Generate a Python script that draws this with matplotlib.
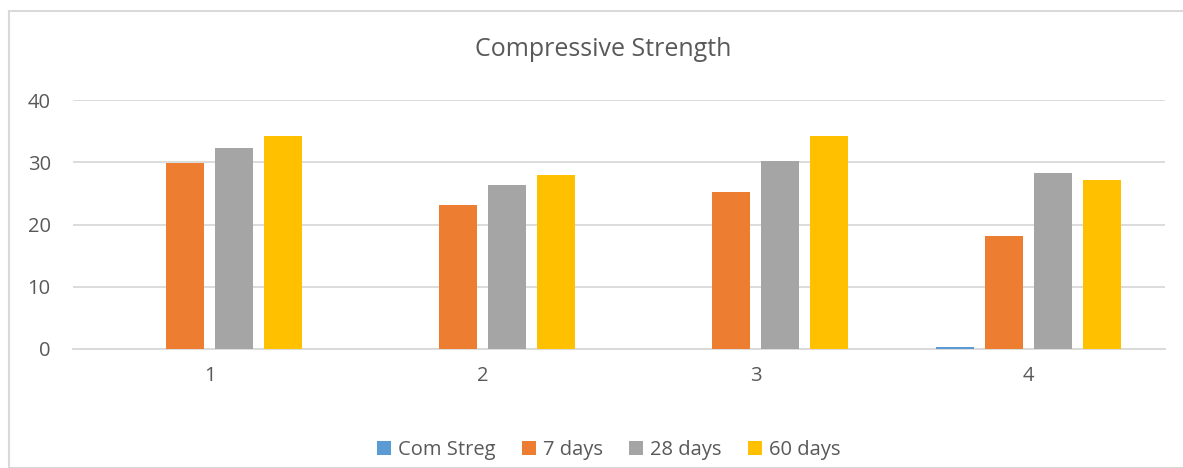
import numpy as np
import matplotlib.pyplot as plt
from matplotlib.patches import Rectangle

plt.rcParams['font.family'] = ['Open Sans', 'DejaVu Sans']

samples = ['1', '2', '3', '4']
com_streg = [0, 0, 0, 0.25]
days_7 = [29.9, 23.2, 25.2, 18.1]
days_28 = [32.3, 26.3, 30.2, 28.2]
days_60 = [34.2, 28.0, 34.2, 27.2]

series = [
    ("Com Streg", com_streg, '#5b9bd5'),
    ("7 days", days_7, '#ed7d31'),
    ("28 days", days_28, '#a5a5a5'),
    ("60 days", days_60, '#ffc000'),
]

text_col = '#595959'
grid_col = '#d9d9d9'

fig = plt.figure(figsize=(11.83, 4.68), dpi=100)
ax = fig.add_axes([73/1183, 1-349/468, (1165-73)/1183, 249/468])

x = np.arange(len(samples))
slot = 0.18
width = 0.14
for i, (name, vals, col) in enumerate(series):
    ax.bar(x + (i - 1.5)*slot, vals, width, color=col, label=name, zorder=3)

ax.set_xlim(-0.5, 3.5)
ax.set_ylim(0, 40)
ax.set_yticks([0, 10, 20, 30, 40])
ax.set_xticks(x)
ax.set_xticklabels(samples)
ax.yaxis.grid(True, color=grid_col, linewidth=1.3, zorder=0)
for s in ['top', 'right', 'left']:
    ax.spines[s].set_visible(False)
ax.spines['bottom'].set_color(grid_col)
ax.spines['bottom'].set_linewidth(1.3)
ax.tick_params(length=0, labelsize=14.5, labelcolor=text_col)
ax.tick_params(axis='y', pad=16)
ax.tick_params(axis='x', pad=12)

fig.text(603/1183, 1-50/468, "Compressive Strength", ha='center', va='center',
         fontsize=18, color=text_col)

# legend along the bottom, square colour keys
fig.legend(loc='center', bbox_to_anchor=(609/1183, 1-450/468), ncol=4,
           frameon=False, fontsize=14.5, labelcolor=text_col,
           handlelength=0.7, handleheight=0.7, handletextpad=0.35, columnspacing=1.3)

fig.patches.append(Rectangle((8.5/1183, 0), 1.1, 1-10.5/468, transform=fig.transFigure,
                             fill=False, edgecolor=grid_col, linewidth=1.5))

plt.savefig("out.png", dpi=100)
